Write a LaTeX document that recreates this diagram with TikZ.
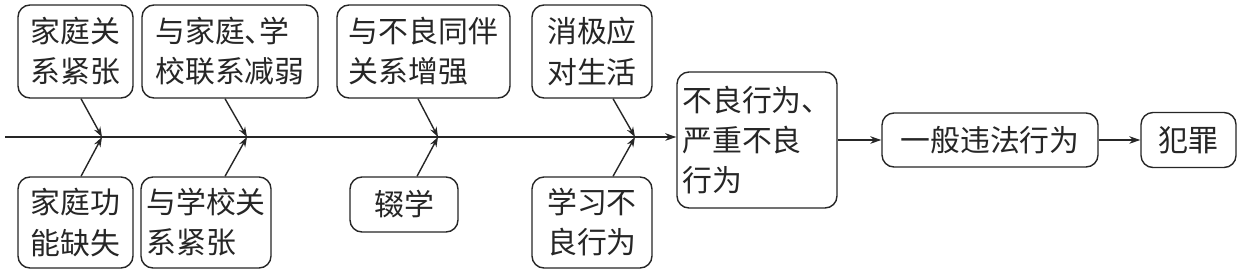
\documentclass[tikz,border=0pt]{standalone}
\usepackage{fontspec}
\usepackage{xcolor}
\usepackage{tikz}
\usetikzlibrary{arrows.meta,positioning,calc}
\newfontfamily\cjk{Noto Sans CJK SC}
\definecolor{ink}{HTML}{262626}
\tikzset{
  cause/.style={draw=ink, rounded corners=2.4mm, align=left, fill=white, inner sep=3pt, line width=0.8pt, minimum height=18.6mm},
  stage/.style={draw=ink, rounded corners=2.4mm, align=left, fill=white, inner sep=3pt, line width=0.8pt, minimum height=10.8mm},
  arrow/.style={-{Stealth[length=2.2mm, width=1.5mm]}, line width=0.8pt, draw=ink},
  branch/.style={-{Stealth[length=2mm, width=1.4mm]}, line width=0.8pt, draw=ink}
}

\begin{document}
\begin{tikzpicture}[font=\cjk\fontsize{17}{22.8}\selectfont, text=ink]
  \useasboundingbox (0,0) rectangle (24.92,5.5);

  \node[cause, minimum width=23mm] (famtense) at (1.51,4.47) {家庭关\\系紧张};
  \node[cause, minimum width=35.2mm] (linkweak) at (4.60,4.47) {与家庭、\kern-0.5em学\\校联系减弱};
  \node[cause, minimum width=34.6mm] (peers) at (8.47,4.47) {与不良同伴\\关系增强};
  \node[cause, minimum width=24mm] (coping) at (11.84,4.47) {消极应\\对生活};

  \node[cause, minimum width=23mm, minimum height=18.2mm] (famfail) at (1.51,1.05) {家庭功\\能缺失};
  \node[cause, minimum width=25.6mm, minimum height=18.2mm] (schooltense) at (4.12,1.05) {与学校关\\系紧张};
  \node[stage, minimum width=21.6mm, minimum height=11mm] (dropout) at (8.08,1.41) {辍学};
  \node[cause, minimum width=24mm, minimum height=18.2mm] (study) at (11.84,1.05) {学习不\\良行为};

  \node[cause, minimum width=32mm, minimum height=27.2mm] (misconduct) at (15.14,2.70) {不良行为、\\严重不良\\行为};
  \node[stage, minimum width=43.2mm] (offence) at (19.80,2.70) {一般违法行为};
  \node[stage, minimum width=19mm, minimum height=11mm] (crime) at (23.77,2.70) {犯罪};

  % spine and its joints
  \coordinate (tail) at (0.10,2.76);
  \coordinate (j1) at (2.04,2.76);
  \coordinate (j2) at (4.94,2.76);
  \coordinate (j3) at (8.76,2.76);
  \coordinate (j4) at (12.70,2.76);
  \draw[arrow] (tail) -- (tail -| misconduct.west);

  \draw[branch] ($(j1 |- famtense.south)+(-0.42,0)$) -- (j1);
  \draw[branch] ($(j1 |- famfail.north)+(-0.42,0)$) -- (j1);
  \draw[branch] ($(j2 |- linkweak.south)+(-0.44,0)$) -- (j2);
  \draw[branch] ($(j2 |- schooltense.north)+(-0.44,0)$) -- (j2);
  \draw[branch] ($(j3 |- peers.south)+(-0.40,0)$) -- (j3);
  \draw[branch] ($(j3 |- dropout.north)+(-0.42,0)$) -- (j3);
  \draw[branch] ($(j4 |- coping.south)+(-0.44,0)$) -- (j4);
  \draw[branch] ($(j4 |- study.north)+(-0.44,0)$) -- (j4);

  \draw[arrow] (misconduct.east |- offence.west) -- (offence);
  \draw[arrow] (offence) -- (crime);
\end{tikzpicture}
\end{document}
